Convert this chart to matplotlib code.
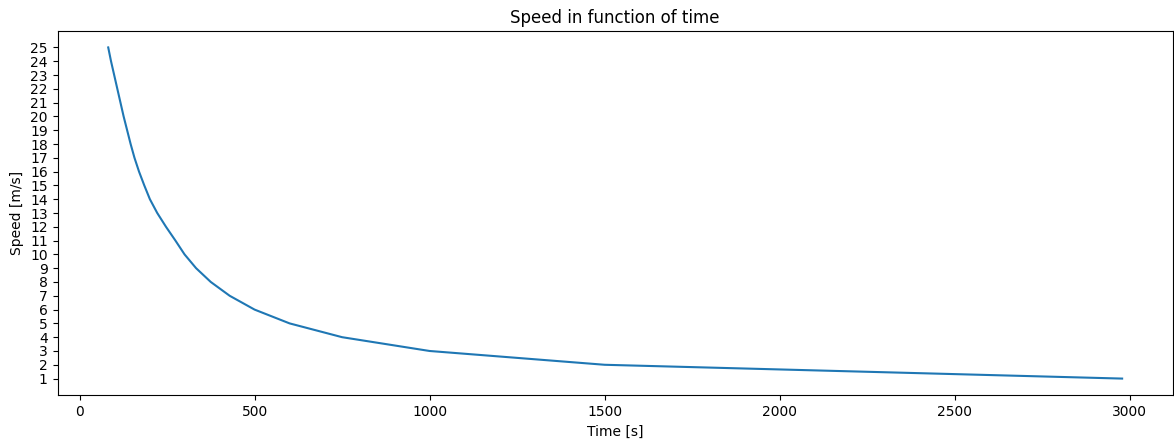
import numpy as np
import matplotlib.pyplot as plt

# speed levels [m/s] and the time [s] at each one
speed = [25, 24, 23, 22, 21, 20, 19, 18, 17, 16, 15, 14, 13,
         12, 11, 10, 9, 8, 7, 6, 5, 4, 3, 2, 1]
time = [82, 90, 99, 108, 117, 126, 136, 146, 157, 170, 185, 201, 222,
        247, 274, 300, 333, 375, 429, 500, 600, 750, 1000, 1500, 2978]

fig = plt.figure(figsize=(11.74, 4.41), dpi=100)
ax = fig.add_axes([0.049, 0.104, 0.950, 0.826])

ax.plot(time, speed, color='#1f77b4', linewidth=1.5)
ax.set_yticks(np.arange(1, 26, 1))
ax.set_title("Speed in function of time")
ax.set_xlabel("Time [s]")
ax.set_ylabel("Speed [m/s]")

plt.savefig('out.png', dpi=100)
